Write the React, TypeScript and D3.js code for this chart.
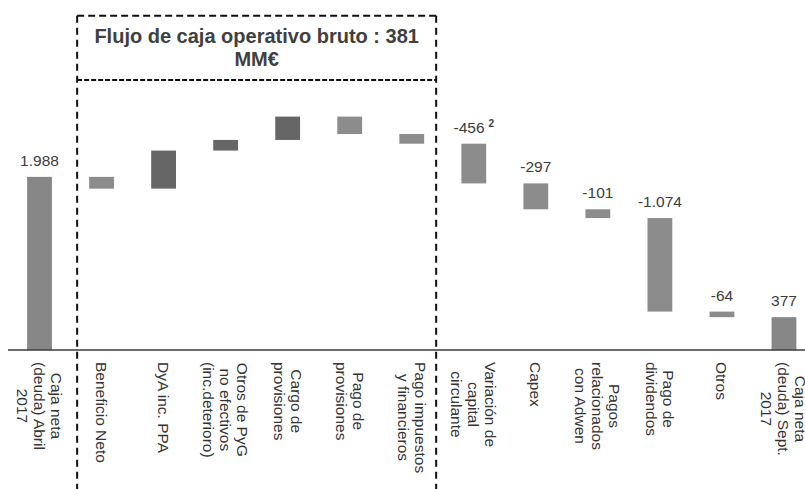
import React, { useRef, useEffect } from 'react';
import * as d3 from 'd3';

// Categories (line breaks as in the original slide)
const categories = [
  'Caja neta\n(deuda) Abril\n2017',
  'Beneficio Neto',
  'DyA inc. PPA',
  'Otros de PyG\nno efectivos\n(inc.deterioro)',
  'Cargo de\nprovisiones',
  'Pago de\nprovisiones',
  'Pago impuestos\ny financieros',
  'Variación de\ncapital\ncirculante',
  'Capex',
  'Pagos\nrelacionados\ncon Adwen',
  'Pago de\ndividendos',
  'Otros',
  'Caja neta\n(deuda) Sept.\n2017',
];

// MM€ — steps inside the box are estimated from the picture (sum = 381)
const values = [1988, -135, 437, 122, 268, -200, -111, -456, -297, -101, -1074, -64, 377];
const isTotal = [true, false, false, false, false, false, false, false, false, false, false, false, true];
const footnotes = ['', '', '', '', '', '', '', '2', '', '', '', '', ''];

// dashed box around the operating cash flow steps
const boxFirst = 1;
const boxLast = 6;
const boxTitle = ['Flujo de caja operativo bruto : 381', 'MM€'];

const WIDTH = 805;
const HEIGHT = 489;
const FONT = '"Liberation Sans", Arial, Helvetica, sans-serif';

const esLocale = d3.formatLocale({
  decimal: ',',
  thousands: '.',
  grouping: [3],
  currency: ['', '€'],
  minus: '-',
});
const fmt = esLocale.format(',d');

export default function App() {
  const svgRef = useRef<SVGSVGElement>(null);

  useEffect(() => {
    const svg = d3.select(svgRef.current);
    svg.selectAll('*').remove();

    const x = d3.scaleBand<string>()
      .domain(categories)
      .range([8.5, 815])
      .paddingInner(0.6)
      .paddingOuter(0.3);

    const y = d3.scaleLinear().domain([0, 2400]).range([350, 141]);

    // Build waterfall steps
    let running = 0;
    const steps = values.map((v, i) => {
      if (isTotal[i]) {
        running = v;
        return { i, v, y0: 0, y1: v, kind: 'total' };
      }
      const y0 = running;
      running += v;
      return { i, v, y0, y1: running, kind: v >= 0 ? 'pos' : 'neg' };
    });

    const colors: Record<string, string> = {
      total: '#878787',
      neg: '#8c8c8c',
      pos: '#666666',
    };

    // Bars
    svg.append('g')
      .selectAll('rect')
      .data(steps)
      .enter().append('rect')
      .attr('x', d => x(categories[d.i])!)
      .attr('width', x.bandwidth())
      .attr('y', d => y(Math.max(d.y0, d.y1)))
      .attr('height', d => Math.abs(y(d.y0) - y(d.y1)))
      .attr('fill', d => colors[d.kind]);

    // Value labels (only outside the box)
    const labels = svg.append('g')
      .attr('font-family', FONT)
      .attr('font-size', 15.5)
      .attr('fill', '#3c3c3c')
      .attr('text-anchor', 'middle');

    steps
      .filter(d => d.i < boxFirst || d.i > boxLast)
      .forEach(d => {
        const t = labels.append('text')
          .attr('x', x(categories[d.i])! + x.bandwidth() / 2)
          .attr('y', y(Math.max(d.y0, d.y1)) - 11);
        t.append('tspan').text(fmt(d.v));
        if (footnotes[d.i]) {
          t.append('tspan')
            .attr('dx', 4)
            .attr('dy', -6)
            .attr('font-size', 10)
            .attr('font-weight', 'bold')
            .text(footnotes[d.i]);
        }
      });

    // Baseline
    svg.append('line')
      .attr('x1', 8)
      .attr('x2', WIDTH)
      .attr('y1', y(0))
      .attr('y2', y(0))
      .attr('stroke', '#3a3a3a')
      .attr('stroke-width', 1.5);

    // Category labels, rotated, lines centred on the longest one
    const lineH = 17;
    categories.forEach(cat => {
      const lines = cat.split('\n');
      const cx = x(cat)! + x.bandwidth() / 2;
      const g = svg.append('g')
        .attr('transform', `translate(${cx},362) rotate(90)`)
        .attr('font-family', FONT)
        .attr('font-size', 15.5)
        .attr('fill', '#333');
      const texts = lines.map((ln, i) =>
        g.append('text')
          .attr('y', (i - (lines.length - 1) / 2) * lineH + 5.5)
          .text(ln)
      );
      const maxLen = d3.max(texts, t => (t.node() as SVGTextElement).getComputedTextLength()) || 0;
      texts.forEach(t => t.attr('x', maxLen / 2).attr('text-anchor', 'middle'));
    });

    // Dashed box
    const left = x(categories[boxFirst])! - 12;
    const right = x(categories[boxLast])! + x.bandwidth() + 12;
    const top = 15.7;
    const headerBottom = 80;

    const box = svg.append('g')
      .attr('stroke', '#111')
      .attr('stroke-width', 2)
      .attr('fill', 'none');

    [left, right].forEach(xx => {
      box.append('line')
        .attr('x1', xx).attr('x2', xx)
        .attr('y1', top).attr('y2', HEIGHT)
        .attr('stroke-dasharray', '7,5');
    });
    box.append('line')
      .attr('x1', left).attr('x2', right)
      .attr('y1', top).attr('y2', top)
      .attr('stroke-dasharray', '7,4');
    box.append('line')
      .attr('x1', left).attr('x2', right)
      .attr('y1', headerBottom).attr('y2', headerBottom)
      .attr('stroke-dasharray', '5,2');

    // Box title
    const title = svg.append('text')
      .attr('font-family', FONT)
      .attr('font-size', 20)
      .attr('font-weight', 'bold')
      .attr('fill', '#404040')
      .attr('text-anchor', 'middle');
    boxTitle.forEach((ln, i) => {
      title.append('tspan')
        .attr('x', (left + right) / 2)
        .attr('y', 43 + i * 23)
        .text(ln);
    });

    return () => {
      svg.selectAll('*').remove();
    };
  }, []);

  return (
    <svg
      ref={svgRef}
      width={WIDTH}
      height={HEIGHT}
      style={{ position: 'absolute', left: 0, top: 0, background: '#fff' }}
    />
  );
}
